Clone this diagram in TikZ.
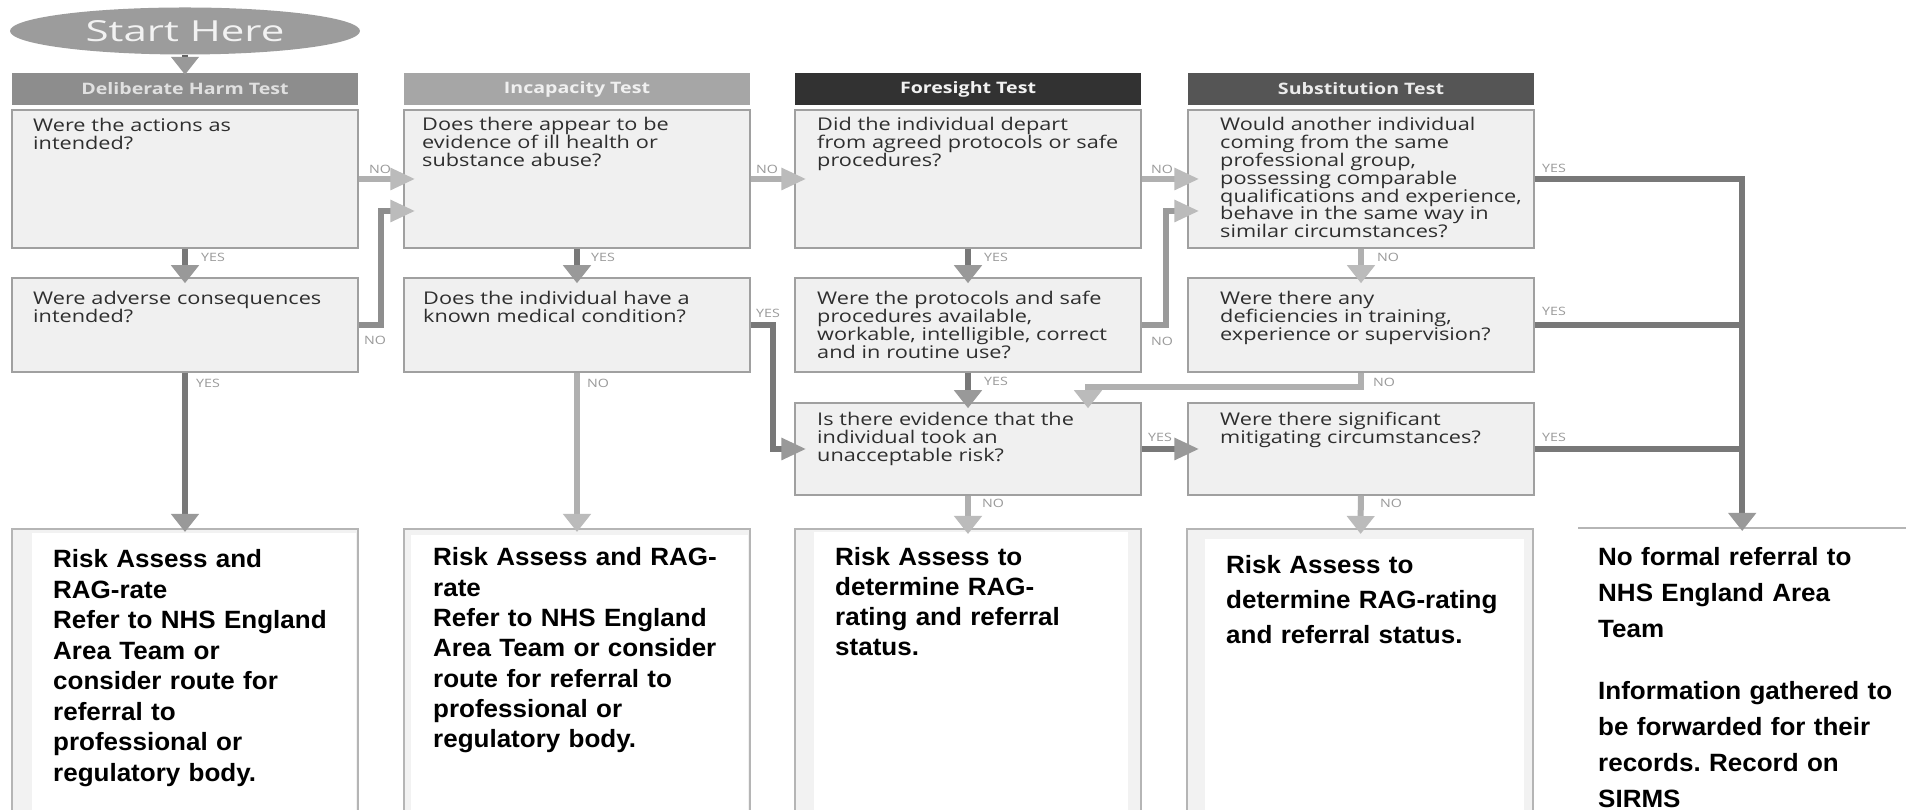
\documentclass[tikz,border=0pt]{standalone}
\usepackage{fontspec}
\setmainfont{Liberation Sans}[FakeStretch=1.04]
\newfontfamily\wideface{Open Sans}[FakeStretch=1.24]
\newfontfamily\startface{Open Sans}[FakeStretch=1.45]
\usetikzlibrary{arrows.meta,shapes.geometric}

\definecolor{startfill}{HTML}{9C9C9C}
\definecolor{hdrA}{HTML}{8D8D8D}
\definecolor{hdrB}{HTML}{A6A6A6}
\definecolor{hdrC}{HTML}{323232}
\definecolor{hdrD}{HTML}{555555}
\definecolor{boxfill}{HTML}{F0F0F0}
\definecolor{boxline}{HTML}{A0A0A0}
\definecolor{qtextc}{HTML}{2E2E2E}
\definecolor{ansc}{HTML}{9A9A9A}
\definecolor{linedark}{HTML}{787878}
\definecolor{headdark}{HTML}{999999}
\definecolor{linelight}{HTML}{B0B0B0}
\definecolor{headlight}{HTML}{BBBBBB}
\definecolor{outline}{HTML}{B5B5B5}
\definecolor{outfill}{HTML}{F2F2F2}

\tikzset{
  hdr/.style={minimum width=346pt, minimum height=32pt, inner sep=0pt,
    font=\wideface\bfseries\fontsize{15.8}{18}\selectfont},
  qbox/.style={draw=boxline, fill=boxfill, line width=1.5pt,
    minimum width=346pt, inner sep=0pt},
  qtext/.style={anchor=base west, inner sep=0pt, text width=325pt, align=left,
    text=qtextc, font=\wideface\fontsize{17.5}{17.8}\selectfont,
    execute at begin node={\setlength{\lineskiplimit}{-20pt}}},
  ans/.style={text=ansc, inner sep=0pt, font=\wideface\fontsize{11.5}{12}\selectfont},
  outbox/.style={draw=outline, fill=outfill, line width=2pt, anchor=north,
    minimum width=346pt, minimum height=300pt, inner sep=0pt},
  outtext/.style={anchor=base west, inner sep=0pt, text width=330pt, align=left,
    font=\bfseries\fontsize{25}{30.5}\selectfont,
    execute at begin node={\setlength{\lineskiplimit}{-20pt}}},
  yesdown/.style={draw=linedark, line width=6pt, shorten >=-6pt,
    -{Triangle[length=18pt,width=27pt,color=headdark]}},
  yesright/.style={draw=linedark, line width=6pt, shorten >=-12pt,
    -{Triangle[length=25pt,width=21pt,color=headdark]}},
  nodown/.style={draw=linelight, line width=6pt, shorten >=-6pt,
    -{Triangle[length=18pt,width=27pt,color=headlight]}},
  noright/.style={draw=linelight, line width=6pt, shorten >=-12pt,
    -{Triangle[length=25pt,width=21pt,color=headlight]}},
  trunk/.style={draw=linedark, line width=6pt},
}

\begin{document}
\frenchspacing
\begin{tikzpicture}[x=1pt,y=1pt]
  \path[fill=white, use as bounding box] (0,0) rectangle (1906,810);

  % start and column headers
  \node[ellipse, fill=startfill, minimum width=350pt, minimum height=47pt, inner sep=0pt,
    text=white!95!black, font=\startface\fontsize{29}{30}\selectfont] (start) at (185,779) {Start Here};
  \node[hdr, fill=hdrA, text=white!88!black] (h1) at (185,721) {Deliberate Harm Test};
  \node[hdr, fill=hdrB, text=white!94!black] (h2) at (577,721) {Incapacity Test};
  \node[hdr, fill=hdrC, text=white!95!black] (h3) at (968,721) {Foresight Test};
  \node[hdr, fill=hdrD, text=white!92!black] (h4) at (1361,721) {Substitution Test};

  % question boxes, row by row
  \node[qbox, minimum height=138pt] (q1) at (185,631) {};
  \node[qbox, minimum height=138pt] (i1) at (577,631) {};
  \node[qbox, minimum height=138pt] (f1) at (968,631) {};
  \node[qbox, minimum height=138pt] (s1) at (1361,631) {};
  \node[qbox, minimum height=94pt] (q2) at (185,485) {};
  \node[qbox, minimum height=94pt] (i2) at (577,485) {};
  \node[qbox, minimum height=94pt] (f2) at (968,485) {};
  \node[qbox, minimum height=94pt] (s2) at (1361,485) {};
  \node[qbox, minimum height=92pt] (f3) at (968,361) {};
  \node[qbox, minimum height=92pt] (s3) at (1361,361) {};

  \node[qtext] (q1t) at (33,678) {Were the actions as\\intended?};
  \node[qtext] (i1t) at (422,679) {Does there appear to be\\evidence of ill health or\\substance abuse?};
  \node[qtext] (f1t) at (817,679) {Did the individual depart\\from agreed protocols or safe\\procedures?};
  \node[qtext] (s1t) at (1220,679) {Would another individual\\coming from the same\\professional group,\\possessing comparable\\qualifications and experience,\\behave in the same way in\\similar circumstances?};
  \node[qtext] (q2t) at (33,505) {Were adverse consequences\\intended?};
  \node[qtext] (i2t) at (423,505) {Does the individual have a\\known medical condition?};
  \node[qtext] (f2t) at (817,505) {Were the protocols and safe\\procedures available,\\workable, intelligible, correct\\and in routine use?};
  \node[qtext] (s2t) at (1220,505) {Were there any\\deficiencies in training,\\experience or supervision?};
  \node[qtext] (f3t) at (817,384) {Is there evidence that the\\individual took an\\unacceptable risk?};
  \node[qtext] (s3t) at (1220,384) {Were there significant\\mitigating circumstances?};

  % outcome boxes
  \node[outbox] (b1) at (185,282) {};
  \node[outbox] (b2) at (577,282) {};
  \node[outbox] (b3) at (968,282) {};
  \node[outbox] (b4) at (1360,282) {};
  \fill[white] ([shift={(21pt,-5pt)}]b1.north west) rectangle ([xshift=-3pt]b1.south east);
  \fill[white] ([shift={(8pt,-7pt)}]b2.north west) rectangle ([xshift=-3pt]b2.south east);
  \fill[white] ([shift={(20pt,-4pt)}]b3.north west) rectangle ([xshift=-14pt]b3.south east);
  \fill[white] ([shift={(19pt,-11pt)}]b4.north west) rectangle ([xshift=-10pt]b4.south east);
  \node[anchor=north west, minimum width=328pt, minimum height=300pt, inner sep=0pt] (fin) at (1578,282) {};
  \draw[outline, line width=2pt] (fin.north west) -- (fin.north east);

  \node[outtext] (b1t) at (53,242) {Risk Assess and\\RAG-rate\\Refer to NHS England\\Area Team or\\consider route for\\referral to\\professional or\\regulatory body.};
  \node[outtext, font=\bfseries\fontsize{25}{30.3}\selectfont] (b2t) at (433,244) {Risk Assess and RAG-\\rate\\Refer to NHS England\\Area Team or consider\\route for referral to\\professional or\\regulatory body.};
  \node[outtext, font=\bfseries\fontsize{25}{30}\selectfont] (b3t) at (835,244) {Risk Assess to\\determine RAG-\\rating and referral\\status.};
  \node[outtext, font=\bfseries\fontsize{25}{35}\selectfont] (b4t) at (1226,236) {Risk Assess to\\determine RAG-rating\\and referral status.};
  \node[outtext, font=\bfseries\fontsize{25}{36}\selectfont] (fint) at (1598,244) {No formal referral to\\NHS England Area\\Team\\[26pt]Information gathered to\\be forwarded for their\\records. Record on\\SIRMS};

  % connectors
  \draw[yesdown, draw=linedark!80!black, shorten >=-2pt] (start) -- (h1);
  \draw[yesdown] (q1) -- (q2);
  \draw[noright] (q1) -- (i1);
  \draw[noright, draw=linedark!60!linelight] (q2.east) -- ++(22,0) |- ([yshift=-32pt]i1.west);
  \draw[yesdown, shorten >=-4pt] (q2) -- (b1);
  \draw[yesdown] (i1) -- (i2);
  \draw[noright] (i1) -- (f1);
  \draw[yesright] (i2.east) -- ++(22,0) |- (f3.west);
  \draw[nodown, shorten >=-4pt] (i2) -- (b2);
  \draw[yesdown] (f1) -- (f2);
  \draw[noright] (f1) -- (s1);
  \draw[noright, draw=linedark!40!linelight] (f2.east) -- ++(24,0) |- ([yshift=-32pt]s1.west);
  \draw[yesdown] (f2) -- (f3);
  \draw[yesright] (f3) -- (s3);
  \draw[nodown] (f3) -- (b3);
  \draw[nodown] (s1) -- (s2);
  \draw[nodown] (s2.south) -- ++(0,-14) -| ([xshift=120pt]f3.north);
  \draw[nodown] (s3) -- (b4);
  \draw[trunk] (s2.east) -- (s2.east -| fin.north);
  \draw[trunk] (s3.east) -- (s3.east -| fin.north);
  \draw[yesdown, shorten >=-3pt] (s1.east) -| (fin.north);

  % answer labels
  \node[ans] (q1yes) at (213,553) {YES};
  \node[ans] (q1no) at (380,641) {NO};
  \node[ans] (q2no) at (375,470) {NO};
  \node[ans] (q2yes) at (208,427) {YES};
  \node[ans] (i1yes) at (603,553) {YES};
  \node[ans] (i1no) at (767,641) {NO};
  \node[ans] (i2yes) at (768,497) {YES};
  \node[ans] (i2no) at (598,427) {NO};
  \node[ans] (f1yes) at (996,553) {YES};
  \node[ans] (f1no) at (1162,641) {NO};
  \node[ans] (f2no) at (1162,469) {NO};
  \node[ans] (f2yes) at (996,429) {YES};
  \node[ans] (f3yes) at (1160,373) {YES};
  \node[ans] (f3no) at (993,307) {NO};
  \node[ans] (s1no) at (1388,553) {NO};
  \node[ans] (s1yes) at (1554,642) {YES};
  \node[ans] (s2yes) at (1554,499) {YES};
  \node[ans] (s2no) at (1384,428) {NO};
  \node[ans] (s3yes) at (1554,373) {YES};
  \node[ans] (s3no) at (1391,307) {NO};
\end{tikzpicture}
\end{document}
